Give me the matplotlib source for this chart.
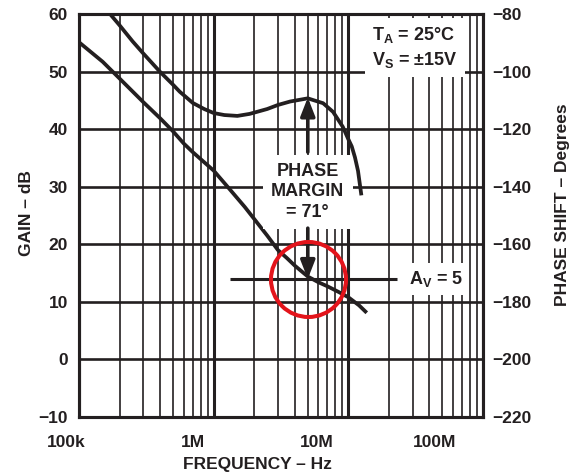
import numpy as np
import matplotlib
matplotlib.use("Agg")
import matplotlib.pyplot as plt
from matplotlib.transforms import ScaledTranslation
from matplotlib.ticker import FixedLocator, NullFormatter

plt.rcParams["font.family"] = ["Liberation Sans", "DejaVu Sans"]
plt.rcParams["font.weight"] = "bold"
plt.rcParams["mathtext.fontset"] = "custom"
plt.rcParams["mathtext.rm"] = "Liberation Sans:bold"
plt.rcParams["mathtext.it"] = "Liberation Sans:bold"
plt.rcParams["mathtext.bf"] = "Liberation Sans:bold"
plt.rcParams["mathtext.default"] = "rm"

INK = "#231f20"

# Open-loop gain (dB) vs frequency (Hz)
gain_freq = [1e5, 1.5e5, 2e5, 3e5, 4e5, 5e5, 6e5, 7e5, 8e5, 1e6, 1.3e6,
             1.7e6, 2e6, 2.5e6, 3e6, 3.5e6, 4e6, 5e6, 6e6, 7e6, 8.5e6, 1e7,
             1.2e7, 1.37e7]
gain_db = [55.1, 51.7, 48.8, 44.7, 41.9, 39.6, 37.5, 36.0, 34.8, 32.8, 29.7,
           26.5, 24.4, 21.5, 19.0, 17.6, 16.3, 14.4, 13.4, 12.7, 11.7, 10.8,
           9.4, 8.1]

# Phase shift (degrees) vs frequency (Hz)
phase_freq = [1.7e5, 2e5, 2.5e5, 3e5, 4e5, 5e5, 5.6e5, 7e5, 8.5e5, 1e6,
              1.2e6, 1.5e6, 1.85e6, 2.5e6, 3e6, 3.7e6, 5e6, 6.5e6, 7.7e6,
              9.1e6, 1e7, 1.06e7, 1.12e7, 1.18e7, 1.25e7]
phase_deg = [-80.0, -83.9, -89.5, -93.7, -100.1, -104.6, -107.0, -110.9,
             -113.0, -114.4, -115.1, -115.4, -114.7, -113.0, -111.6, -110.4,
             -109.3, -111.0, -114.0, -119.2, -123.5, -126.0, -129.8, -134.5,
             -143.0]

# Closed-loop gain and phase margin at crossover
av = 5
av_db = 20 * np.log10(av)
crossover_freq = 5e6
phase_margin = 71
av_line_span = [1.32e6, 2.3e7]

x_tick_vals = [1e5, 1e6, 1e7, 1e8]
x_tick_labels = ["100k", "1M", "10M", "100M"]
x_label_shift_px = [-13, -21, -32, -48]
gain_ticks = list(range(-10, 61, 10))
phase_ticks = list(range(-220, -79, 20))

W, H = 572, 476
fig = plt.figure(figsize=(W / 100, H / 100), dpi=100)
ax = fig.add_axes([79 / W, 1 - 417 / H, (483 - 79) / W, (417 - 14) / H])

ax.set_xscale("log")
ax.set_xlim(1e5, 1e8)
ax.set_ylim(-10, 60)
ax.set_xticks(x_tick_vals)
ax.set_xticklabels(x_tick_labels)
minor = [m * d for d in [1e5, 1e6, 1e7] for m in range(2, 10)]
ax.xaxis.set_minor_locator(FixedLocator(minor))
ax.xaxis.set_minor_formatter(NullFormatter())
ax.set_yticks(gain_ticks)

ax.tick_params(axis="both", which="both", length=0, labelsize=12.5,
               labelcolor=INK)
ax.tick_params(axis="y", pad=8)
ax.tick_params(axis="x", pad=13)
for lab, dx in zip(ax.get_xticklabels(), x_label_shift_px):
    lab.set_transform(lab.get_transform() +
                      ScaledTranslation(dx / 100, 0, fig.dpi_scale_trans))

ax.grid(which="major", axis="x", color=INK, lw=2.2)
ax.grid(which="minor", axis="x", color=INK, lw=1.2)
ax.grid(which="major", axis="y", color=INK, lw=1.9)
for s in ax.spines.values():
    s.set_linewidth(2.2)
    s.set_color(INK)

ax2 = ax.twinx()
ax2.set_ylim(-220, -80)
ax2.set_yticks(phase_ticks)
ax2.tick_params(axis="y", length=0, pad=7, labelsize=12.5, labelcolor=INK)
for s in ax2.spines.values():
    s.set_linewidth(2.2)
    s.set_color(INK)

# Curves
ax.plot(gain_freq, gain_db, color=INK, lw=2.7, solid_capstyle="butt",
        solid_joinstyle="round", zorder=4)
ax2.plot(phase_freq, phase_deg, color=INK, lw=2.7, solid_capstyle="butt",
         solid_joinstyle="round", zorder=4)

# Closed-loop gain line and label
ax.hlines(av_db, av_line_span[0], av_line_span[1], color=INK, lw=2.2, zorder=3)
ax.text(4.47e7, av_db, "A$_V$ = %d" % av, ha="center", va="center",
        fontsize=13, color=INK, zorder=5,
        bbox=dict(boxstyle="square,pad=0.35", fc="white", ec="none"))

# Conditions box
ax.text(1.5e7, 54.2, "T$_A$ = 25°C\nV$_S$ = ±15V", ha="left", va="center",
        fontsize=13, color=INK, linespacing=1.35, zorder=5,
        bbox=dict(boxstyle="square,pad=0.4", fc="white", ec="none"))

# Phase margin label and arrows
ax.text(crossover_freq, 29.1, "PHASE\nMARGIN\n= %d°" % phase_margin,
        ha="center", va="center", multialignment="center", fontsize=13,
        color=INK, linespacing=1.25, zorder=5,
        bbox=dict(boxstyle="square,pad=0.45", fc="white", ec="none"))
arrow = dict(arrowstyle="-|>,head_length=1.1,head_width=0.43", color=INK,
             lw=2.6, shrinkA=0, shrinkB=0, mutation_scale=10)
ax.annotate("", xy=(crossover_freq, -180 + phase_margin),
            xycoords=ax2.transData, xytext=(crossover_freq, 36.0),
            textcoords=ax.transData, arrowprops=arrow, zorder=6)
ax.annotate("", xy=(crossover_freq, av_db), xytext=(crossover_freq, 22.8),
            arrowprops=arrow, zorder=6)

# Highlight around the crossover point
ax.plot([crossover_freq], [av_db], marker="o", ms=54, mfc="none",
        mec="#e3141b", mew=2.9, zorder=7, clip_on=False)

# Axis titles
fig.text(257 / W, 1 - 465 / H, "FREQUENCY – Hz", ha="center", va="center",
         fontsize=12.5, color=INK)
fig.text(27 / W, 1 - 213 / H, "GAIN – dB", ha="center", va="center",
         rotation=90, fontsize=12.5, color=INK)
fig.text(562 / W, 1 - 205 / H, "PHASE SHIFT – Degrees", ha="center",
         va="center", rotation=90, fontsize=12.5, color=INK)

fig.savefig("out.png", dpi=100)
